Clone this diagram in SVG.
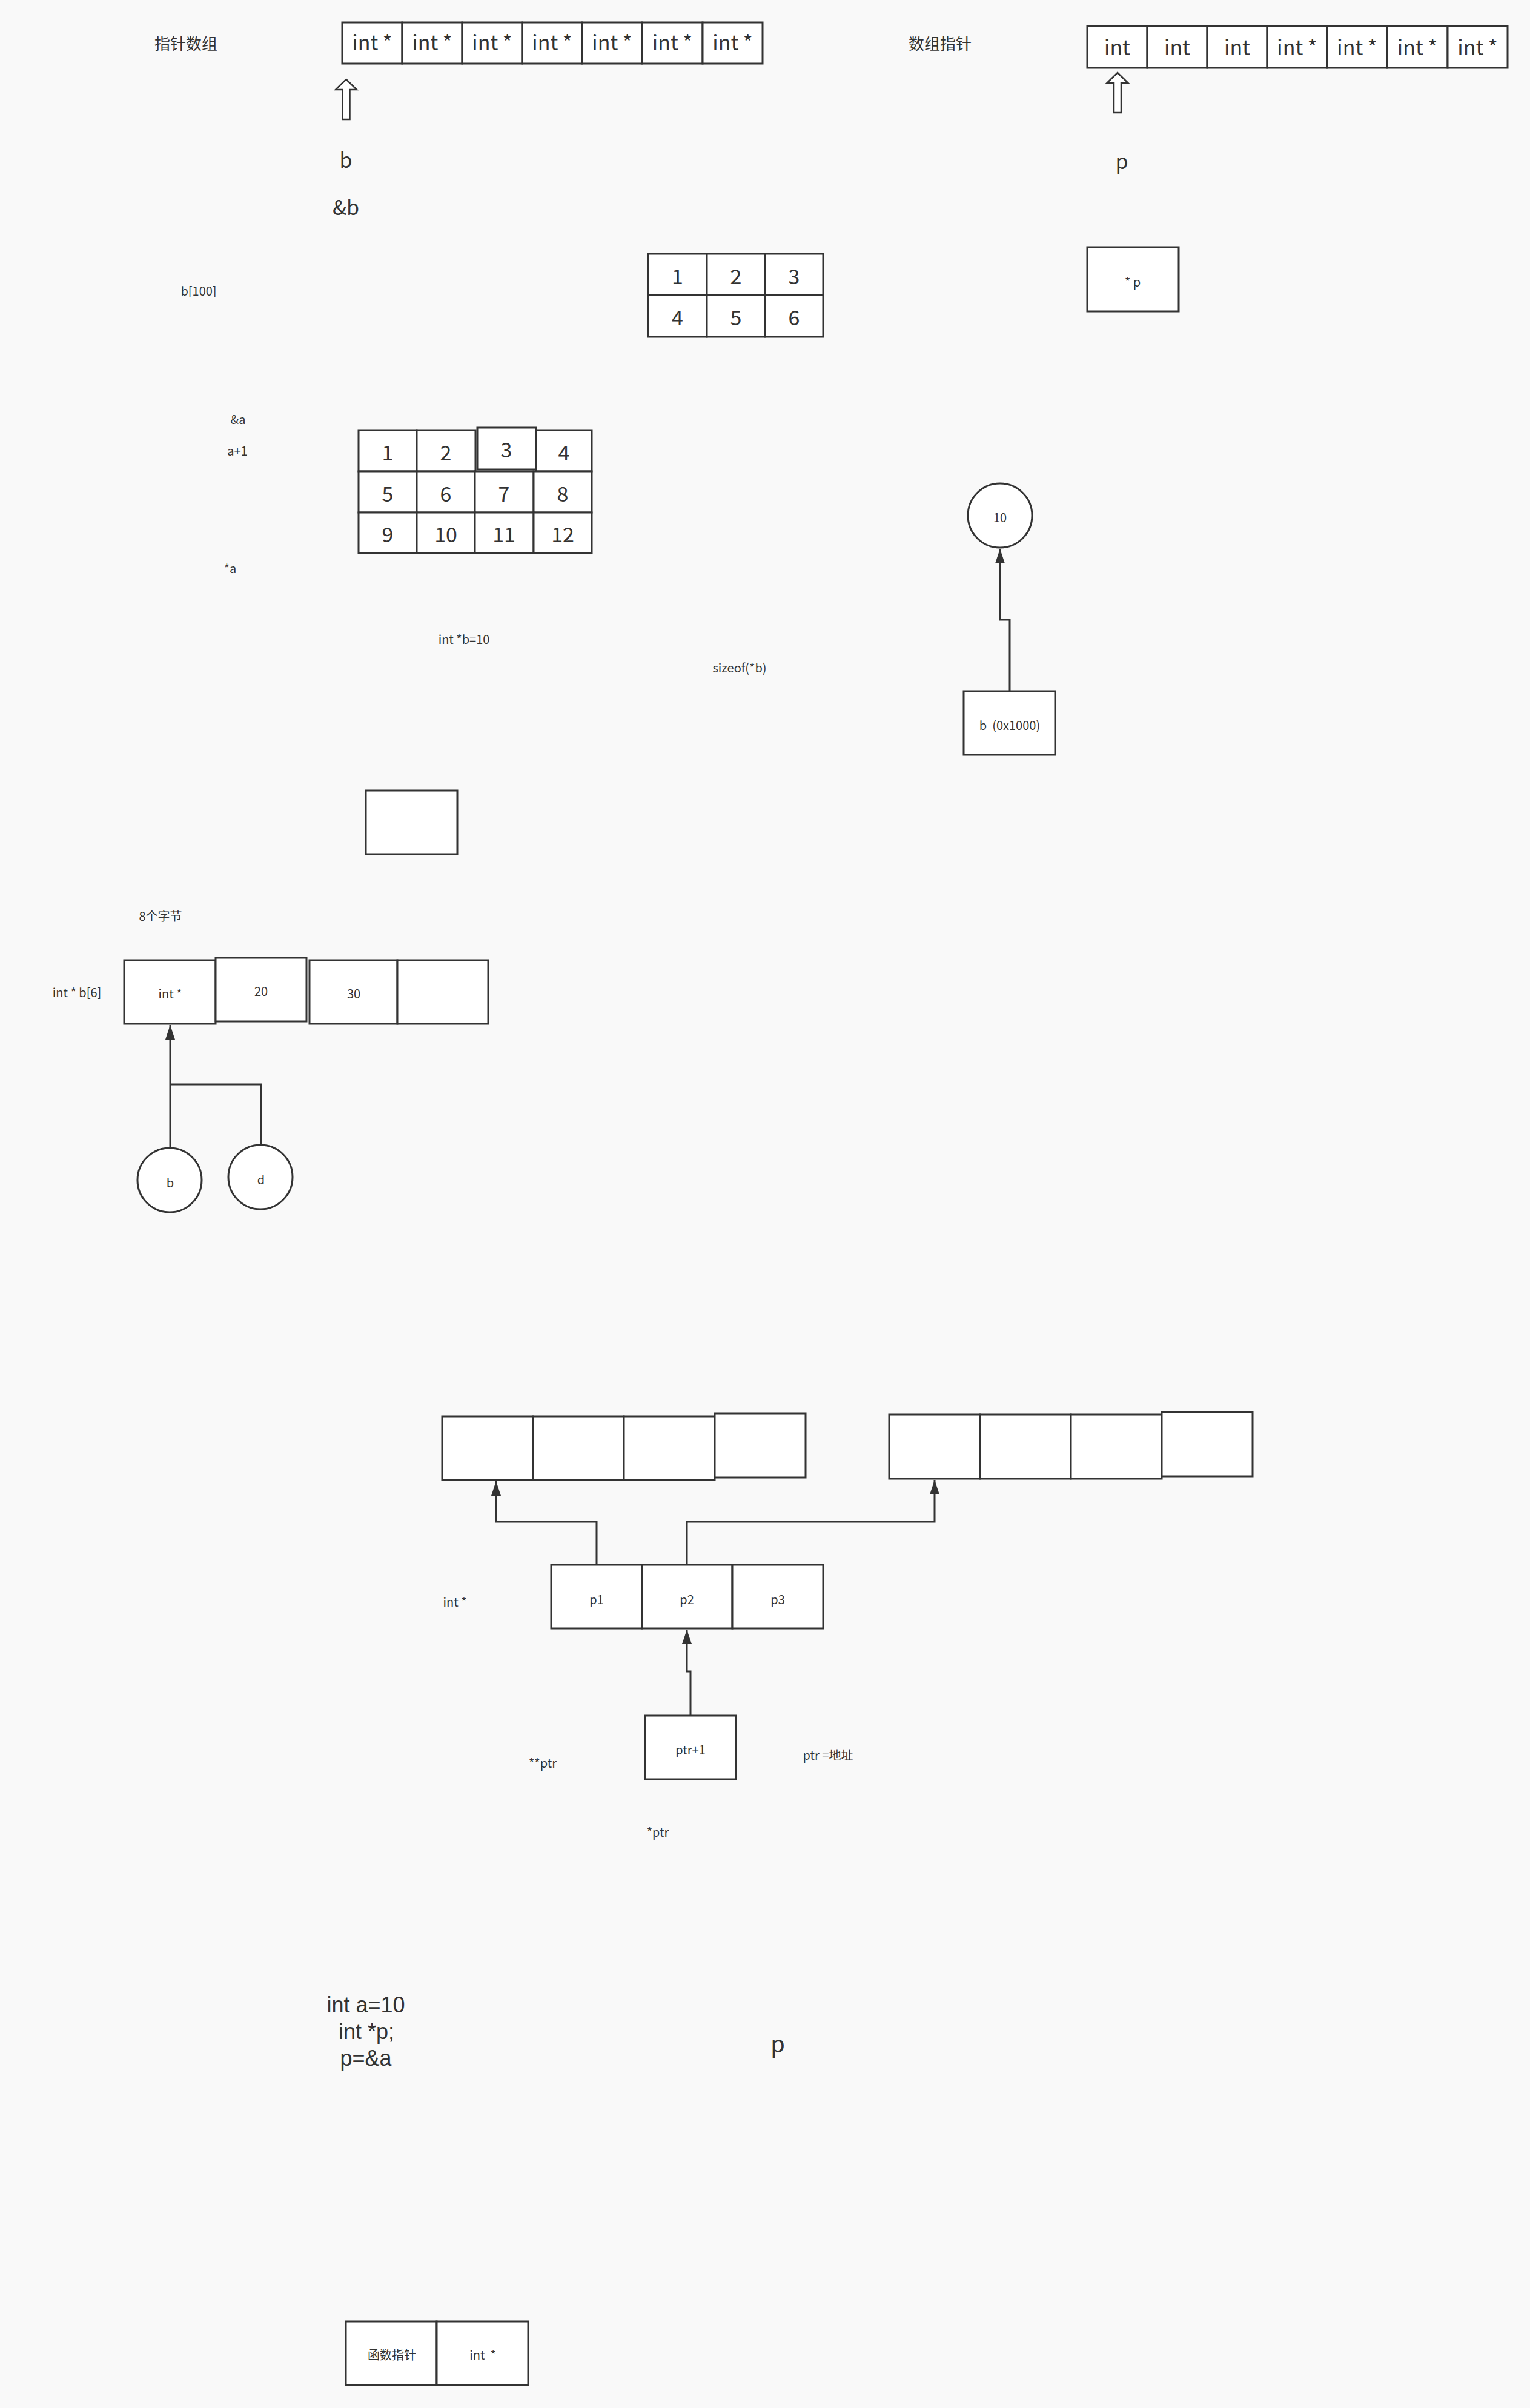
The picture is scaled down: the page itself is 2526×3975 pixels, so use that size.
<svg xmlns="http://www.w3.org/2000/svg" width="2526" height="3975" viewBox="0 0 2526 3975">
<defs>
<style>
text{font-family:"Noto Sans CJK SC","Noto Sans",sans-serif;fill:#333;text-anchor:middle}
.c{fill:#fff;stroke:#333;stroke-width:3}
.l{font-size:34px}
.s{font-size:20px;dominant-baseline:central}
.m{font-size:26px;dominant-baseline:central}
.x{font-size:38px}
.cb{font-family:"Liberation Sans",Arial,sans-serif;font-size:36px}
.n{font-size:34px;dominant-baseline:central}
.e{fill:none;stroke:#333;stroke-width:3}
.ba{fill:#fff;stroke:#333;stroke-width:2.5;stroke-linejoin:miter}
</style>
<marker id="ah" markerUnits="userSpaceOnUse" markerWidth="26" markerHeight="18" viewBox="0 0 26 18" refX="24" refY="9" orient="auto">
<path d="M24 9 L0 1 L0 17 Z" fill="#333"/>
</marker>
</defs>
<rect x="0" y="0" width="2526" height="3975" fill="#f9f9f9"/>

<g id="label-ptr-array"><text class="m" x="307" y="70">指针数组</text></g>
<g id="ptr-array">
<rect class="c" x="565" y="37" width="99" height="68"/>
<rect class="c" x="664" y="37" width="99" height="68"/>
<rect class="c" x="763" y="37" width="99" height="68"/>
<rect class="c" x="862" y="37" width="99" height="68"/>
<rect class="c" x="961" y="37" width="99" height="68"/>
<rect class="c" x="1060" y="37" width="100" height="68"/>
<rect class="c" x="1160" y="37" width="99" height="68"/>
<text class="l" x="614.5" y="83">int *</text>
<text class="l" x="713.5" y="83">int *</text>
<text class="l" x="812.5" y="83">int *</text>
<text class="l" x="911.5" y="83">int *</text>
<text class="l" x="1010.5" y="83">int *</text>
<text class="l" x="1110" y="83">int *</text>
<text class="l" x="1209.5" y="83">int *</text>
</g>
<g id="arrow-b"><path class="ba" d="M571.5 131 L589 148 L577.5 148 L577.5 197 L565.5 197 L565.5 148 L554 148 Z"/></g>
<g id="label-b"><text class="l" x="571" y="277">b</text></g>
<g id="label-addr-b"><text class="l" x="571" y="355">&amp;b</text></g>

<g id="label-array-ptr"><text class="m" x="1552" y="70">数组指针</text></g>
<g id="array-ptr">
<rect class="c" x="1795" y="43" width="99" height="69"/>
<rect class="c" x="1894" y="43" width="99" height="69"/>
<rect class="c" x="1993" y="43" width="99" height="69"/>
<rect class="c" x="2092" y="43" width="99" height="69"/>
<rect class="c" x="2191" y="43" width="99" height="69"/>
<rect class="c" x="2290" y="43" width="100" height="69"/>
<rect class="c" x="2390" y="43" width="99" height="69"/>
<text class="l" x="1844.5" y="91">int</text>
<text class="l" x="1943.5" y="91">int</text>
<text class="l" x="2042.5" y="91">int</text>
<text class="l" x="2141.5" y="91">int *</text>
<text class="l" x="2240.5" y="91">int *</text>
<text class="l" x="2340" y="91">int *</text>
<text class="l" x="2439.5" y="91">int *</text>
</g>
<g id="arrow-p"><path class="ba" d="M1845 120 L1862.5 137 L1851 137 L1851 186 L1839 186 L1839 137 L1827.5 137 Z"/></g>
<g id="label-p"><text class="l" x="1852" y="279">p</text></g>
<g id="box-star-p"><rect class="c" x="1795" y="408" width="151" height="106"/><text class="s" x="1870" y="464">* p</text></g>

<g id="label-b100"><text class="s" x="328" y="479">b[100]</text></g>
<g id="table-2x3">
<rect class="c" x="1070" y="419" width="97" height="68"/>
<rect class="c" x="1167" y="419" width="96" height="68"/>
<rect class="c" x="1263" y="419" width="96" height="68"/>
<rect class="c" x="1070" y="487" width="97" height="69"/>
<rect class="c" x="1167" y="487" width="96" height="69"/>
<rect class="c" x="1263" y="487" width="96" height="69"/>
<text class="n" x="1118.5" y="454">1</text>
<text class="n" x="1215" y="454">2</text>
<text class="n" x="1311" y="454">3</text>
<text class="n" x="1118.5" y="522">4</text>
<text class="n" x="1215" y="522">5</text>
<text class="n" x="1311" y="522">6</text>
</g>

<g id="label-addr-a"><text class="s" x="393" y="691">&amp;a</text></g>
<g id="label-a1"><text class="s" x="392" y="743">a+1</text></g>
<g id="label-star-a"><text class="s" x="380" y="937">*a</text></g>
<g id="table-3x4">
<rect class="c" x="592" y="710" width="96" height="68"/>
<rect class="c" x="688" y="710" width="97" height="68"/>
<rect class="c" x="885" y="710" width="92" height="68"/>
<rect class="c" x="592" y="778" width="96" height="68"/>
<rect class="c" x="688" y="778" width="96" height="68"/>
<rect class="c" x="784" y="778" width="97" height="68"/>
<rect class="c" x="881" y="778" width="96" height="68"/>
<rect class="c" x="592" y="846" width="96" height="67"/>
<rect class="c" x="688" y="846" width="96" height="67"/>
<rect class="c" x="784" y="846" width="97" height="67"/>
<rect class="c" x="881" y="846" width="96" height="67"/>
<text class="n" x="640" y="745">1</text>
<text class="n" x="736" y="745">2</text>
<text class="n" x="931" y="745">4</text>
<text class="n" x="640" y="813">5</text>
<text class="n" x="736" y="813">6</text>
<text class="n" x="832" y="813">7</text>
<text class="n" x="929" y="813">8</text>
<text class="n" x="640" y="880">9</text>
<text class="n" x="736" y="880">10</text>
<text class="n" x="832" y="880">11</text>
<text class="n" x="929" y="880">12</text>
</g>
<g id="cell-3"><rect class="c" x="788" y="706" width="97" height="69"/><text class="n" x="836" y="740">3</text></g>

<g id="label-intb10"><text class="s" x="766" y="1054">int *b=10</text></g>
<g id="label-sizeof"><text class="s" x="1221" y="1101">sizeof(*b)</text></g>
<g id="circle-10"><circle class="c" cx="1651" cy="851" r="53"/><text class="s" x="1651" y="853">10</text></g>
<g id="box-b0x1000"><rect class="c" x="1591" y="1141" width="151" height="105"/><text class="s" x="1667" y="1196" xml:space="preserve">b  (0x1000)</text></g>
<g id="box-empty"><rect class="c" x="604" y="1305" width="151" height="105"/></g>

<g id="label-8bytes"><text class="s" x="265" y="1511">8个字节</text></g>
<g id="label-intb6"><text class="s" x="127" y="1637">int * b[6]</text></g>
<g id="box-intstar"><rect class="c" x="205" y="1585" width="151" height="105"/><text class="s" x="281" y="1639">int *</text></g>
<g id="box-20"><rect class="c" x="356" y="1581" width="150" height="105"/><text class="s" x="431" y="1635">20</text></g>
<g id="box-30"><rect class="c" x="511" y="1585" width="145" height="105"/><text class="s" x="584" y="1639">30</text></g>
<g id="box-blank"><rect class="c" x="656" y="1585" width="150" height="105"/></g>
<g id="circle-b"><ellipse class="c" cx="280" cy="1948" rx="53" ry="53"/><text class="s" x="281" y="1951">b</text></g>
<g id="circle-d"><ellipse class="c" cx="430" cy="1943" rx="53" ry="53"/><text class="s" x="431" y="1946">d</text></g>

<g id="array-left">
<rect class="c" x="730" y="2338" width="150" height="105"/>
<rect class="c" x="880" y="2338" width="150" height="105"/>
<rect class="c" x="1030" y="2338" width="150" height="105"/>
<rect class="c" x="1180" y="2333" width="150" height="106"/>
</g>
<g id="array-right">
<rect class="c" x="1468" y="2335" width="150" height="106"/>
<rect class="c" x="1618" y="2335" width="150" height="106"/>
<rect class="c" x="1768" y="2335" width="150" height="106"/>
<rect class="c" x="1918" y="2331" width="150" height="106"/>
</g>
<g id="label-intstar"><text class="s" x="751" y="2643">int *</text></g>
<g id="array-p">
<rect class="c" x="910" y="2583" width="150" height="105"/>
<rect class="c" x="1060" y="2583" width="149" height="105"/>
<rect class="c" x="1209" y="2583" width="150" height="105"/>
<text class="s" x="985" y="2639">p1</text>
<text class="s" x="1134" y="2639">p2</text>
<text class="s" x="1284" y="2639">p3</text>
</g>
<g id="box-ptr1"><rect class="c" x="1065" y="2832" width="150" height="105"/><text class="s" x="1140" y="2887">ptr+1</text></g>
<g id="label-starstarptr"><text class="s" x="896" y="2909">**ptr</text></g>
<g id="label-ptr-addr"><text class="s" x="1367" y="2896">ptr =地址</text></g>
<g id="label-starptr"><text class="s" x="1086" y="3023">*ptr</text></g>

<g id="code-block"><text class="cb" x="604" y="3322">int a=10</text><text class="cb" x="605" y="3366">int *p;</text><text class="cb" x="604" y="3410">p=&amp;a</text></g>
<g id="label-p-bottom"><text class="x" x="1284" y="3388">p</text></g>

<g id="box-funcptr">
<rect class="c" x="571" y="3832" width="150" height="105"/>
<rect class="c" x="721" y="3832" width="151" height="105"/>
<text class="s" x="647" y="3886">函数指针</text>
<text class="s" x="797" y="3886" xml:space="preserve">int  *</text>
</g>

<g id="connectors">
<path class="e" d="M1667 1141 V1023 H1651 V906" marker-end="url(#ah)"/>
<path class="e" d="M281 1896 V1692" marker-end="url(#ah)"/>
<path class="e" d="M431 1890 V1790 H281"/>
<path class="e" d="M985 2583 V2512 H819 V2445" marker-end="url(#ah)"/>
<path class="e" d="M1134 2583 V2512 H1543 V2443" marker-end="url(#ah)"/>
<path class="e" d="M1140 2832 V2759 H1134 V2690" marker-end="url(#ah)"/>
</g>
</svg>
